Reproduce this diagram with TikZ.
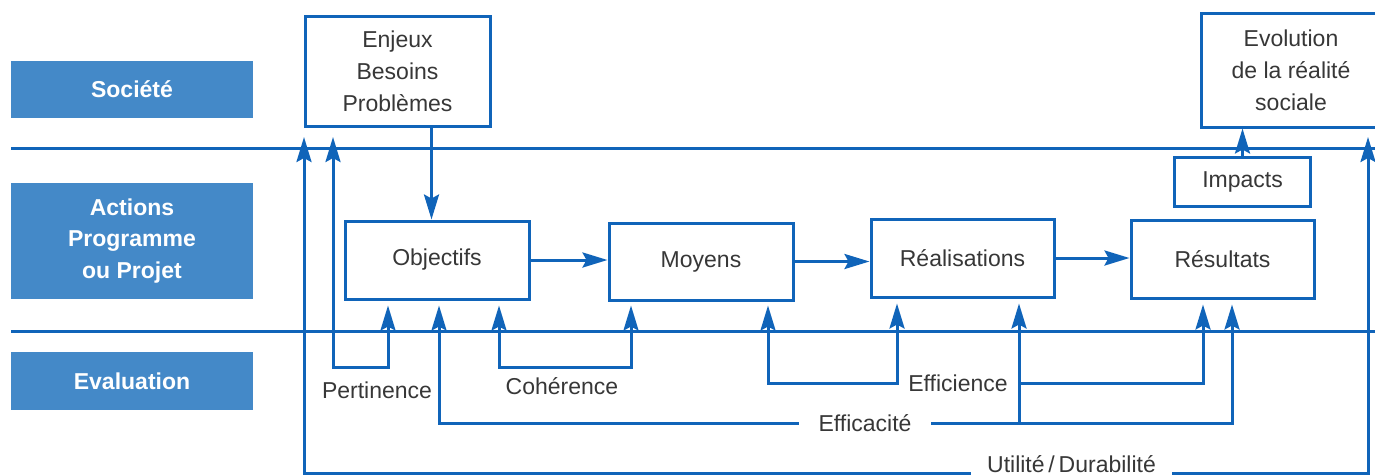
\documentclass[tikz,border=0pt]{standalone}
\usepackage{fontspec}
\setmainfont{Liberation Sans}
\usetikzlibrary{arrows.meta,positioning}

\definecolor{ligne}{RGB}{16,100,185}
\definecolor{bandeau}{RGB}{68,137,200}
\definecolor{texte}{RGB}{55,55,55}

\tikzset{
  pointe/.tip={Stealth[length=25pt,width=15pt,inset=4pt]},
  trait/.style={draw=ligne, line width=3pt},
  fleche/.style={trait, -pointe},
  boucle/.style={trait, pointe-pointe},
  boite/.style={trait, fill=white, text=texte, inner sep=0pt, align=center,
    font=\fontsize{23}{32}\selectfont},
  niveau/.style={fill=bandeau, text=white, inner sep=0pt, align=center,
    minimum width=242pt, font=\fontsize{23}{31.5}\selectfont\bfseries},
  etiq/.style={text=texte, inner sep=0pt, font=\fontsize{23}{28}\selectfont}
}

\begin{document}
\begin{tikzpicture}[x=1pt, y=-1pt]

\useasboundingbox (0,0) rectangle (1375,475);

% les trois niveaux
\node[niveau, minimum height=57pt] (societe) at (132,89.5) {Soci\'et\'e};
\node[niveau, minimum height=116pt] (actions) at (132,241) {Actions\\Programme\\ou Projet};
\node[niveau, minimum height=58pt] (evaluation) at (132,381) {Evaluation};

% separations
\coordinate (sepA) at (11,148);
\coordinate (sepB) at (11,331);
\draw[trait] (sepA) -- ++(1370,0);
\draw[trait] (sepB) -- ++(1370,0);

% boites
\node[boite, minimum width=185pt, minimum height=110pt] (enjeux) at (397.5,71) {Enjeux\\Besoins\\Probl\`emes};
\node[boite, minimum width=180pt, minimum height=114pt] (evolution) at (1291,70) {Evolution\\de la r\'ealit\'e\\sociale};
\node[boite, minimum width=136pt, minimum height=49pt] (impacts) at (1242.5,182) {Impacts};
\node[boite, minimum width=184pt, minimum height=78pt] (objectifs) at (437,260) {Objectifs};
\node[boite, minimum width=184pt, minimum height=77pt] (moyens) at (701,261.5) {Moyens};
\node[boite, minimum width=183pt, minimum height=78pt] (realisations) at (962.5,258) {R\'ealisations};
\node[boite, minimum width=183pt, minimum height=78pt] (resultats) at (1222.5,259) {R\'esultats};

% chaine d'action
\coordinate (besoin) at ([xshift=34pt]enjeux.south);
\draw[fleche] (besoin) -- (besoin |- objectifs.north);
\draw[fleche] (objectifs.east) -- (objectifs.east -| moyens.west);
\draw[fleche] (moyens.east) -- (moyens.east -| realisations.west);
\draw[fleche] (realisations.east) -- (realisations.east -| resultats.west);
\draw[fleche] (impacts.north) -- (impacts.north |- evolution.south);

% pointes sous les boites
\coordinate (pertA) at ([xshift=-49pt,yshift=-5pt]objectifs.south);
\coordinate (effA) at ([xshift=2pt,yshift=-5pt]objectifs.south);
\coordinate (cohA) at ([xshift=62pt,yshift=-5pt]objectifs.south);
\coordinate (cohB) at ([xshift=-70pt,yshift=-4pt]moyens.south);
\coordinate (ficA) at ([xshift=67pt,yshift=-4pt]moyens.south);
\coordinate (ficB) at ([xshift=-65.5pt,yshift=-5pt]realisations.south);
\coordinate (effB) at ([xshift=56.5pt,yshift=-5pt]realisations.south);
\coordinate (ficC) at ([xshift=-19.5pt,yshift=-5pt]resultats.south);
\coordinate (effC) at ([xshift=9.5pt,yshift=-5pt]resultats.south);
\coordinate (pertH) at (333,137);
\coordinate (utilG) at (304,137);
\coordinate (utilD) at (1368,137);
\coordinate (niv1) at (0,367);
\coordinate (niv4) at (0,473);

% evaluation
\node[etiq] (pertinence) at (377,390) {Pertinence};
\node[etiq] (coherence) at (562,386) {Coh\'erence};
\node[etiq, minimum width=122pt] (efficience) at (958,383) {Efficience};
\node[etiq, minimum width=132pt] (efficacite) at (865,423) {Efficacit\'e};
\node[etiq, minimum width=201pt] (utilite) at (1071.5,464) {Utilit\'e\,/\,Durabilit\'e};

\draw[boucle] (pertH) |- (pertA |- niv1) -- (pertA);
\draw[boucle] (cohA) |- (cohB |- niv1) -- (cohB);
\draw[boucle] (ficA) |- (ficB |- efficience) -- (ficB);
\draw[fleche] (efficience.east) -| (ficC);
\draw[fleche] (efficacite.west) -| (effA);
\draw[fleche] (efficacite.east) -| (effC);
\draw[fleche] (effB |- efficacite) -- (effB);
\draw[fleche] (utilite.west |- niv4) -| (utilG);
\draw[fleche] (utilite.east |- niv4) -| (utilD);

\end{tikzpicture}
\end{document}
